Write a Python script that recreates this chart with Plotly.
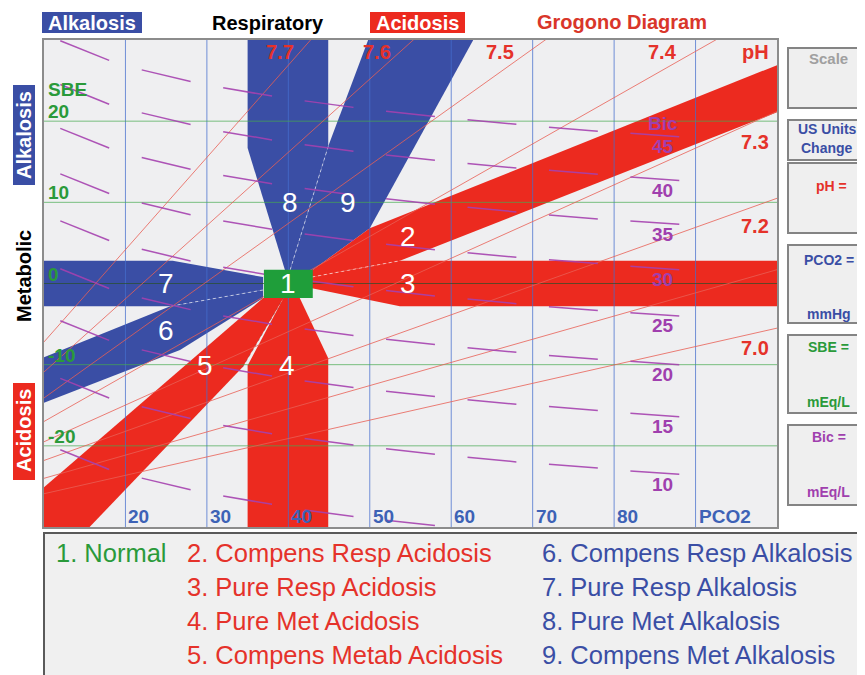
import plotly.graph_objects as go

# ------------------------------------------------------------------ data
pco2_gridlines = [20, 30, 40, 50, 60, 70, 80, 90]
pco2_tick_labels = ["20", "30", "40", "50", "60", "70", "80", "PCO2"]
sbe_gridlines = [-20, -10, 10, 20]
sbe_tick_values = [20, 10, 0, -10, -20]
sbe_tick_labels = ["20", "10", "0", "-10", "-20"]

# pH isopleths: SBE read where each line meets PCO2 = 10 and PCO2 = 100
ph_line_labels = ["7.0", "7.1", "7.2", "7.3", "7.4", "7.5", "7.6", "7.7"]
ph_line_pco2 = [10, 100]
ph_line_sbe_start = [-25.9, -24.0, -21.8, -19.5, -17.0, -14.1, -10.9, -7.2]
ph_line_sbe_end = [-5.5, 1.7, 10.5, 21.2, 34.3, 50.4, 70.3, 95.1]

# bicarbonate isopleth dashes: SBE at the middle of each PCO2 column
bic_values = [5, 10, 15, 20, 25, 30, 35, 40, 45]
bic_column_pco2 = [15, 25, 35, 45, 55, 65, 75, 85]
bic05_sbe = [-21.7, -24.7, -26.7, -28.3, -29.5, None, None, None]
bic10_sbe = [-12.9, -15.9, -18.0, -19.5, -20.7, -21.7, -22.5, -23.3]
bic15_sbe = [-5.8, -8.9, -10.9, -12.4, -13.6, -14.6, -15.4, -16.2]
bic20_sbe = [0.6, -2.5, -4.5, -6.0, -7.2, -8.2, -9.1, -9.8]
bic25_sbe = [6.5, 3.5, 1.5, 0.0, -1.2, -2.2, -3.1, -3.8]
bic30_sbe = [12.3, 9.2, 7.2, 5.7, 4.5, 3.5, 2.7, 1.9]
bic35_sbe = [17.9, 14.8, 12.8, 11.3, 10.1, 9.1, 8.2, 7.5]
bic40_sbe = [23.3, 20.3, 18.2, 16.7, 15.5, 14.5, 13.7, 12.9]
bic45_sbe = [28.7, 25.6, 23.6, 22.1, 20.9, 19.9, 19.0, 18.3]
bic_dash_tilt = [1.21, 0.72, 0.51, 0.40, 0.33, 0.28, 0.24, 0.21]

# diagnostic zones (PCO2, SBE vertices)
zone1_pco2 = [37, 43, 43, 37]
zone1_sbe = [-1.8, -1.8, 1.7, 1.7]
zone2_pco2 = [42.9, 50.0, 100, 100, 53.7, 42.9]
zone2_sbe = [1.6, 6.8, 26.9, 21.1, 2.8, 0.8]
zone3_pco2 = [42.9, 53.7, 100, 100, 53.7, 42.9]
zone3_sbe = [0.8, 2.8, 2.8, -2.8, -2.8, -0.6]
zone4_pco2 = [35.0, 35.0, 39.4, 41.4, 44.9, 44.9]
zone4_sbe = [-30, -10.1, -1.8, -1.8, -9.2, -30]
zone5_pco2 = [36.9, 10, 10, 15.6, 34.4, 39.4]
zone5_sbe = [-1.8, -25.1, -30, -30, -10.3, -1.8]
zone6_pco2 = [36.9, 25.5, 10, 10, 26.7, 36.9]
zone6_sbe = [-0.8, -2.8, -9.1, -14.7, -8.2, -1.8]
zone7_pco2 = [10, 25.8, 36.9, 36.9, 25.5, 10]
zone7_sbe = [2.8, 2.8, 0.8, -0.8, -2.8, -2.8]
zone8_pco2 = [35.0, 44.9, 44.9, 40.2, 39.6, 35.0]
zone8_sbe = [30, 30, 16.9, 1.6, 1.6, 16.7]
zone9_pco2 = [44.9, 49.8, 62.7, 50.0, 42.9, 40.2]
zone9_sbe = [16.9, 30, 30, 6.8, 1.6, 1.6]
zone_label_pco2 = [40.0, 54.7, 54.7, 39.8, 29.8, 25.0, 25.0, 40.2, 47.3]
zone_label_sbe = [0.0, 5.8, 0.0, -10.1, -10.1, -5.8, 0.0, 10.0, 10.0]

legend_acid = ["2. Compens Resp Acidosis", "3. Pure Resp Acidosis",
               "4. Pure Met Acidosis", "5. Compens Metab Acidosis"]
legend_alk = ["6. Compens Resp Alkalosis", "7. Pure Resp Alkalosis",
              "8. Pure Met Alkalosis", "9. Compens Met Alkalosis"]

# ------------------------------------------------------------------ style
OFF = 8                      # page body margin of the html page
W, H = 865 - OFF, 675 - OFF
PL, PR, PT, PB = 44, 777, 40, 527   # plot box in window pixels
FONT = "Liberation Sans, Arial, sans-serif"
BLUE = "#3a4ea5"
RED = "#ec2a1f"
GREEN_BOX = "#1f9e3a"
TXT_RED = "#e5322a"
TXT_GREEN = "#2a9a3a"
TXT_BLUE = "#3d62b6"
PURPLE = "#a03fae"


def px(xp):
    return (xp - PL) / (PR - PL)


def py(yp):
    return (PB - yp) / (PB - PT)


fig = go.Figure()


def poly(xs, ys, color):
    fig.add_trace(go.Scatter(x=xs + [xs[0]], y=ys + [ys[0]], mode="lines",
                             fill="toself", fillcolor=color,
                             line=dict(width=0, color=color),
                             hoverinfo="skip", showlegend=False))


def seg(xs, ys, color, width=1, dash=None):
    fig.add_trace(go.Scatter(x=xs, y=ys, mode="lines",
                             line=dict(color=color, width=width, dash=dash),
                             hoverinfo="skip", showlegend=False,
                             connectgaps=False))


# zones
for xs, ys, c in [(zone7_pco2, zone7_sbe, BLUE), (zone6_pco2, zone6_sbe, BLUE),
                  (zone8_pco2, zone8_sbe, BLUE), (zone9_pco2, zone9_sbe, BLUE),
                  (zone5_pco2, zone5_sbe, RED), (zone4_pco2, zone4_sbe, RED),
                  (zone2_pco2, zone2_sbe, RED), (zone3_pco2, zone3_sbe, RED)]:
    poly(xs, ys, c)

# zone separators
SEP = "rgba(255,255,255,0.75)"
seg([zone7_pco2[3], zone7_pco2[4]], [zone7_sbe[3], zone7_sbe[4]], SEP, 0.8, "dot")
seg([zone9_pco2[0], zone9_pco2[5]], [zone9_sbe[0], zone9_sbe[5]], SEP, 0.8, "dot")
seg([zone3_pco2[0], zone3_pco2[1]], [zone3_sbe[0], zone3_sbe[1]], SEP, 0.8, "dot")
seg([zone5_pco2[4], zone5_pco2[5]], [zone5_sbe[4], zone5_sbe[5]], "rgba(110,40,40,0.5)", 0.8, "dot")

# grid lines (drawn over the zones)
gx, gy = [], []
for v in pco2_gridlines:
    gx += [v, v, None]
    gy += [-30, 30, None]
seg(gx, gy, "rgba(70,110,205,0.75)", 1)
hx, hy = [], []
for v in sbe_gridlines:
    hx += [10, 100, None]
    hy += [v, v, None]
seg(hx, hy, "rgba(70,170,80,0.7)", 1)
seg([10, 100], [0, 0], "rgba(40,80,40,0.7)", 1.2)

# pH lines
lx, ly = [], []
for a, b in zip(ph_line_sbe_start, ph_line_sbe_end):
    lx += [ph_line_pco2[0], ph_line_pco2[1], None]
    ly += [a, b, None]
seg(lx, ly, "rgba(232,95,85,0.8)", 1)

# bicarbonate dashes
bx, by = [], []
for series in [bic05_sbe, bic10_sbe, bic15_sbe, bic20_sbe, bic25_sbe,
               bic30_sbe, bic35_sbe, bic40_sbe, bic45_sbe]:
    for pm, mid, t in zip(bic_column_pco2, series, bic_dash_tilt):
        if mid is None:
            continue
        bx += [pm - 3, pm + 3, None]
        by += [mid + t, mid - t, None]
seg(bx, by, "rgba(165,65,175,0.9)", 1.5)

# normal zone
poly(zone1_pco2, zone1_sbe, GREEN_BOX)

ann = []


def txt(text, x, y, size, color, xref="x", yref="y", xanchor="center",
        yanchor="middle", bold=True, angle=0, xshift=0, yshift=0):
    ann.append(dict(text=("<b>%s</b>" % text) if bold else text, x=x, y=y,
                    xref=xref, yref=yref, xanchor=xanchor, yanchor=yanchor,
                    showarrow=False, textangle=angle, xshift=xshift, yshift=yshift,
                    font=dict(family=FONT, size=size, color=color)))


# zone numbers
for i, (x, y) in enumerate(zip(zone_label_pco2, zone_label_sbe)):
    txt(str(i + 1), x, y, 28, "white", bold=False)

# SBE labels
for v, t in zip(sbe_tick_values, sbe_tick_labels):
    txt(t, 10.3, v, 19, TXT_GREEN, xanchor="left", yanchor="bottom", yshift=-3)
txt("SBE", 10.3, 20, 19, TXT_GREEN, xanchor="left", yanchor="bottom", yshift=19)

# PCO2 labels
for v, t in zip(pco2_gridlines, pco2_tick_labels):
    txt(t, v, -30, 19, TXT_BLUE, xanchor="left", yanchor="bottom", xshift=1, yshift=-2)

# pH labels
ph_top = {"7.7": 39.0, "7.6": 50.9, "7.5": 66.0, "7.4": 86.0}
for t, x in ph_top.items():
    txt(t, x, 28.5, 20, TXT_RED)
txt("pH", 99.3, 28.5, 20, TXT_RED, xanchor="right")
for t, y in [("7.3", 17.4), ("7.2", 7.1), ("7.0", -8.0)]:
    txt(t, 99.3, y, 20, TXT_RED, xanchor="right")

# Bic labels (column 80-90)
for b, series in zip(bic_values, [bic05_sbe, bic10_sbe, bic15_sbe, bic20_sbe, bic25_sbe,
                                  bic30_sbe, bic35_sbe, bic40_sbe, bic45_sbe]):
    if series[-1] is None:
        continue
    txt(str(b), 86.0, series[-1], 19, PURPLE, yanchor="top", yshift=1)
txt("Bic", 86.0, bic45_sbe[-1], 19, PURPLE, yanchor="bottom", yshift=-1)

shapes = []


def rect(x0, y0, x1, y1, fill, line=None, lw=0):
    shapes.append(dict(type="rect", xref="paper", yref="paper",
                       x0=px(x0), x1=px(x1), y0=py(y1), y1=py(y0),
                       fillcolor=fill, line=dict(color=line or fill, width=lw),
                       layer="above"))


# header boxes
rect(42, 12, 142, 33, BLUE)
rect(370, 12, 465, 33, RED)
rect(13, 85, 35, 185, BLUE)
rect(13, 383, 35, 480, RED)
txt("Alkalosis", px(92), py(23), 20, "white", "paper", "paper")
txt("Respiratory", px(268), py(23), 20, "black", "paper", "paper")
txt("Acidosis", px(417), py(23), 20, "white", "paper", "paper")
txt("Grogono Diagram", px(622), py(22), 20, "#d9362a", "paper", "paper")
txt("Alkalosis", px(24), py(135), 20, "white", "paper", "paper", angle=-90)
txt("Metabolic", px(24), py(276), 20, "black", "paper", "paper", angle=-90)
txt("Acidosis", px(24), py(431), 20, "white", "paper", "paper", angle=-90)

# right-hand panels
for (y0, y1) in [(48, 108), (120, 160), (163, 233), (245, 323), (335, 413), (425, 505)]:
    rect(788, y0, 872, y1, "#efefef", "#848484", 2)
CX = 829
txt("Scale", px(CX), py(59), 15, "#a0a0a0", "paper", "paper")
txt("US Units", px(CX - 2), py(129), 14, BLUE, "paper", "paper")
txt("Change", px(CX - 2), py(148), 14, BLUE, "paper", "paper")
txt("pH =", px(CX + 2), py(186), 14, TXT_RED, "paper", "paper")
txt("PCO2 =", px(CX), py(260), 14, BLUE, "paper", "paper")
txt("mmHg", px(CX), py(314), 14, BLUE, "paper", "paper")
txt("SBE =", px(CX), py(347), 14, TXT_GREEN, "paper", "paper")
txt("mEq/L", px(CX), py(402), 14, TXT_GREEN, "paper", "paper")
txt("Bic =", px(CX), py(437), 14, PURPLE, "paper", "paper")
txt("mEq/L", px(CX), py(492), 14, PURPLE, "paper", "paper")

# legend box
rect(44, 533, 880, 700, "#f0f0f0", "#5a5a5a", 2)
rows = [553, 587, 621, 655]
LF = 25.5
txt("1. Normal", px(54), py(rows[0]), LF, TXT_GREEN, "paper", "paper", xanchor="left", bold=False)
for r, t in zip(rows, legend_acid):
    txt(t, px(185), py(r), LF, TXT_RED, "paper", "paper", xanchor="left", bold=False)
for r, t in zip(rows, legend_alk):
    txt(t, px(540), py(r), LF, BLUE, "paper", "paper", xanchor="left", bold=False)

fig.update_layout(
    width=W, height=H, autosize=False,
    margin=dict(l=PL - OFF, r=W - (PR - OFF), t=PT - OFF, b=H - (PB - OFF), pad=0),
    paper_bgcolor="white", plot_bgcolor="#efeff1",
    xaxis=dict(range=[10, 100], showgrid=False, zeroline=False, showticklabels=False,
               ticks="", showline=True, mirror=True, linecolor="#8c8c8c", linewidth=2,
               fixedrange=True),
    yaxis=dict(range=[-30, 30], showgrid=False, zeroline=False, showticklabels=False,
               ticks="", showline=True, mirror=True, linecolor="#8c8c8c", linewidth=2,
               fixedrange=True),
    annotations=ann, shapes=shapes, showlegend=False,
)

fig.write_html("out.html", config={"displayModeBar": False})
